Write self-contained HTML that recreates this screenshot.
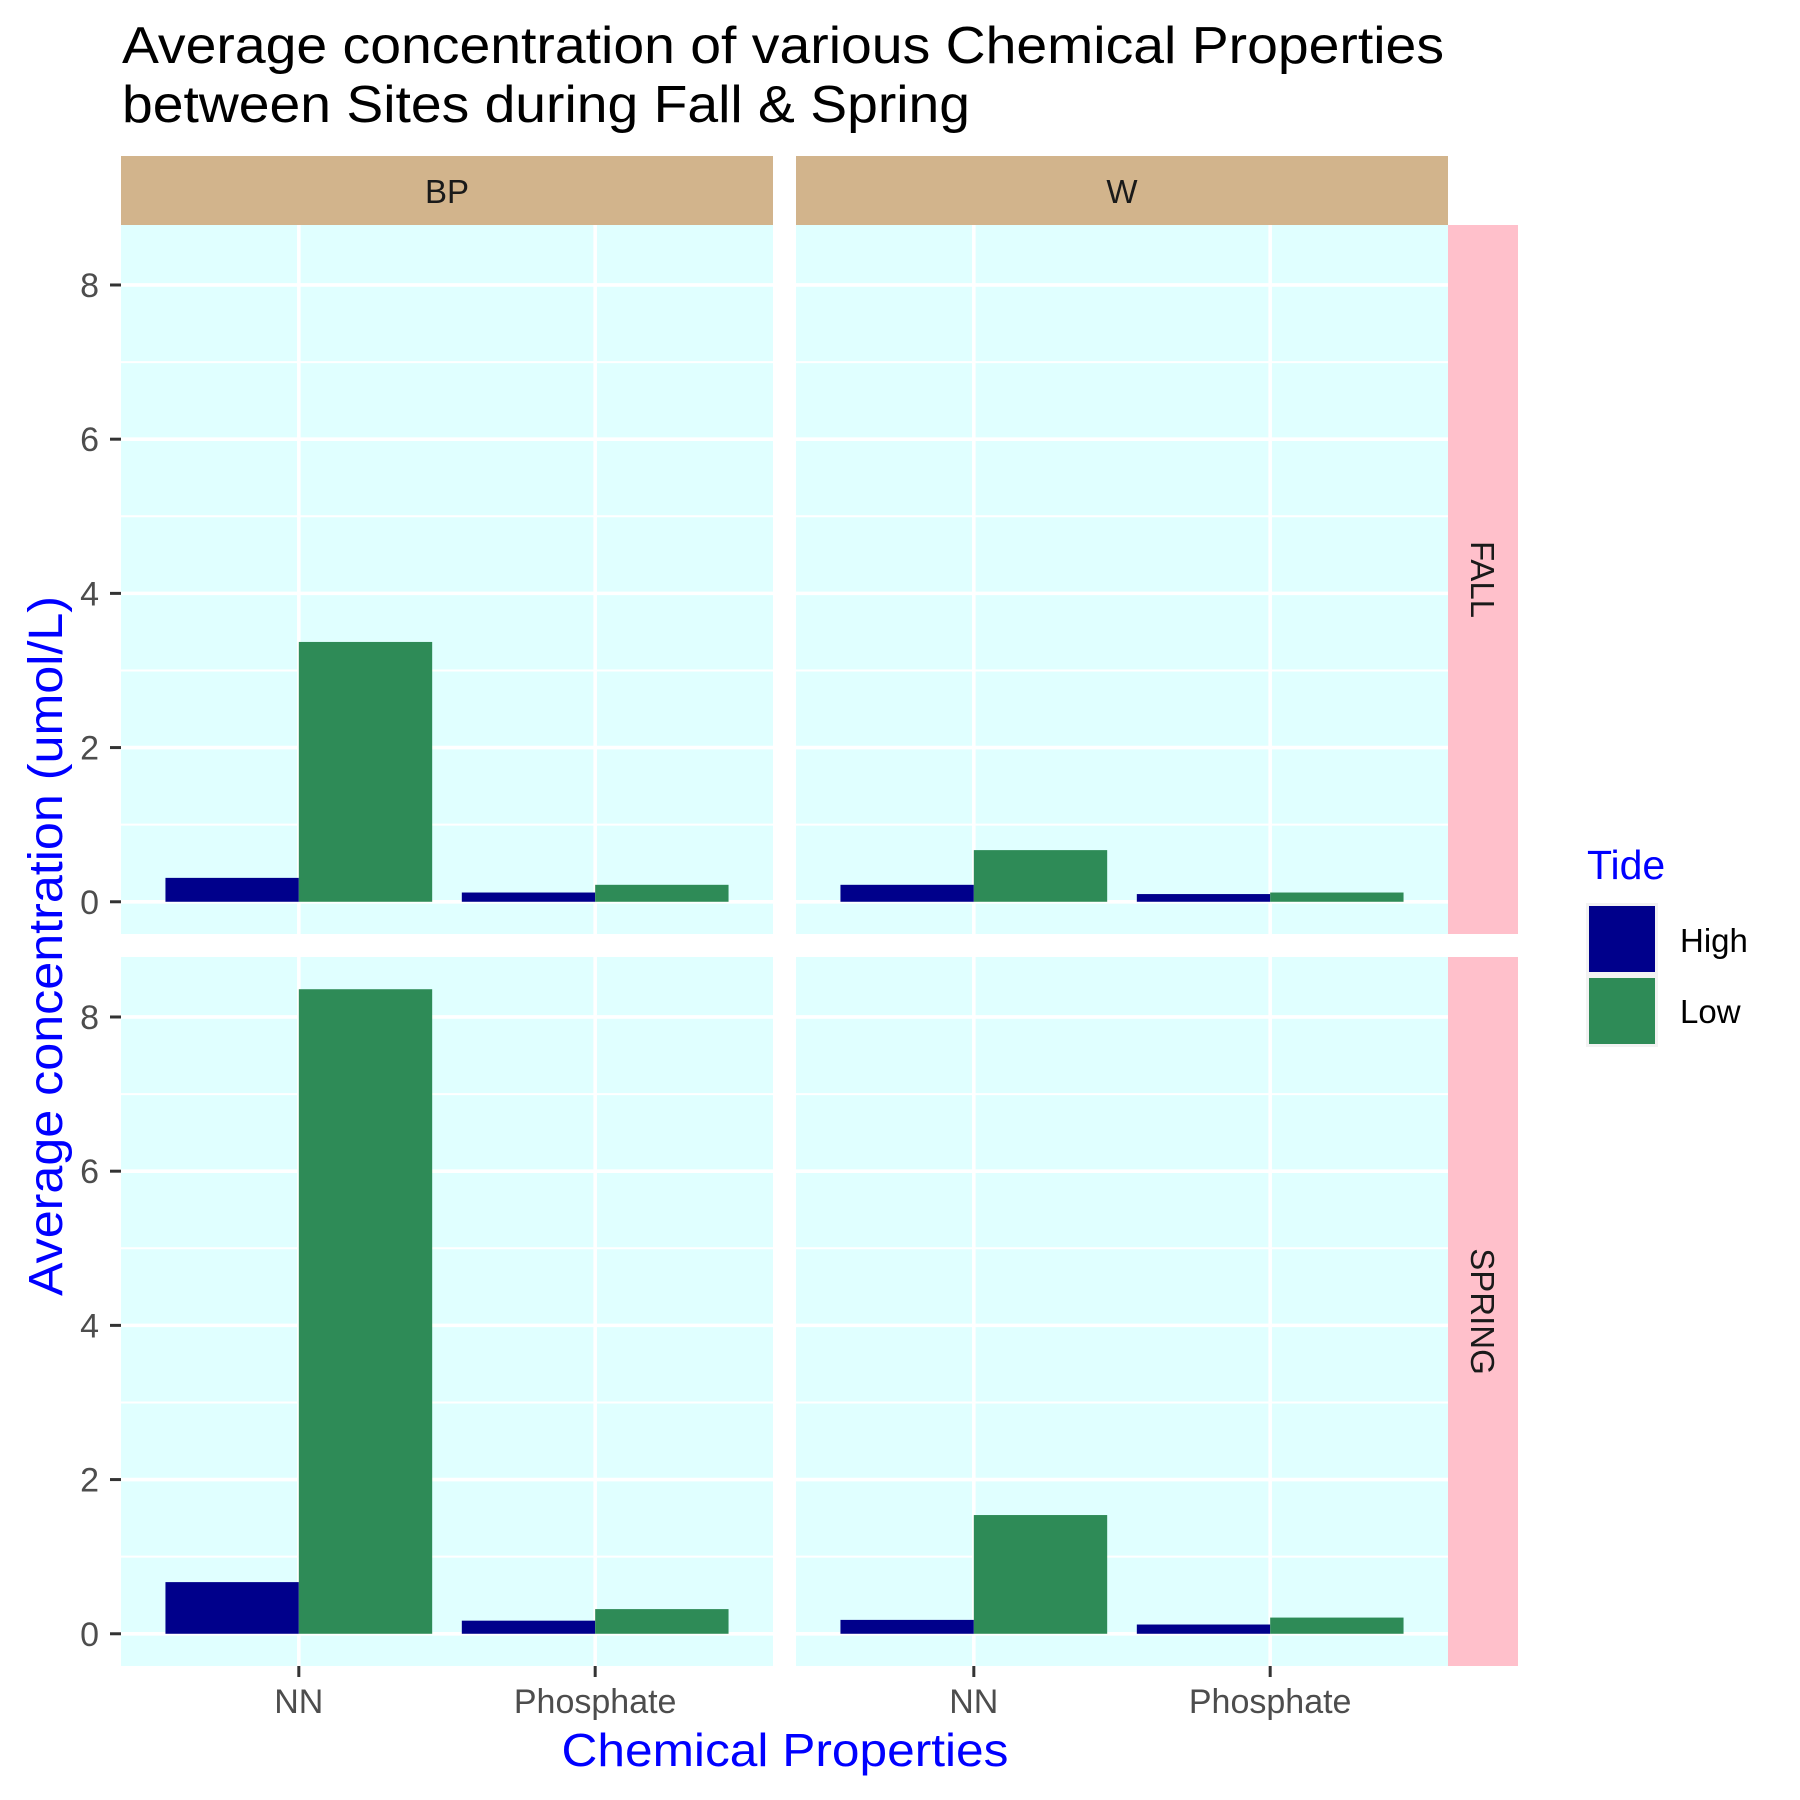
<!DOCTYPE html>
<html><head><meta charset="utf-8"><style>
html,body{margin:0;padding:0;background:#fff;}
svg{display:block;font-family:"Liberation Sans",Arial,sans-serif;}
</style></head><body>
<svg id="chart" width="1800" height="1800" viewBox="0 0 1800 1800" xmlns="http://www.w3.org/2000/svg">
<text x="122" y="63" font-size="52" fill="#000" textLength="1322" lengthAdjust="spacingAndGlyphs">Average concentration of various Chemical Properties</text>
<text x="122" y="122" font-size="52" fill="#000" textLength="848" lengthAdjust="spacingAndGlyphs">between Sites during Fall &amp; Spring</text>
<g id="panels"></g>
<text x="785" y="1766" font-size="46" fill="#0000ff" text-anchor="middle" textLength="447" lengthAdjust="spacingAndGlyphs">Chemical Properties</text>
<text transform="translate(62,946) rotate(-90)" font-size="48" fill="#0000ff" text-anchor="middle" textLength="700" lengthAdjust="spacingAndGlyphs">Average concentration (umol/L)</text>
<g>
<text x="1587" y="879" font-size="41" fill="#0000ff">Tide</text>
<rect x="1586" y="903" width="72" height="144" fill="#f2f2f2"/>
<rect x="1589" y="906" width="66" height="66" fill="#00008b"/>
<rect x="1589" y="978" width="66" height="66" fill="#2e8b57"/>
<text x="1680" y="952" font-size="33" fill="#000">High</text>
<text x="1680" y="1023" font-size="33" fill="#000">Low</text>
</g>
</svg>
<script>
const sites = ["BP", "W"];
const seasons = ["FALL", "SPRING"];
const categories = ["NN", "Phosphate"];
const tides = ["High", "Low"];
// values per [season][site] -> [NN, Phosphate]
const fallBPHigh = [0.31, 0.12];
const fallBPLow = [3.37, 0.22];
const fallWHigh = [0.22, 0.10];
const fallWLow = [0.67, 0.12];
const springBPHigh = [0.67, 0.17];
const springBPLow = [8.36, 0.32];
const springWHigh = [0.18, 0.12];
const springWLow = [1.54, 0.21];
const yTicks = [0, 2, 4, 6, 8];
const yMinor = [1, 3, 5, 7];

const series = {
  FALL: {BP: {High: fallBPHigh, Low: fallBPLow}, W: {High: fallWHigh, Low: fallWLow}},
  SPRING: {BP: {High: springBPHigh, Low: springBPLow}, W: {High: springWHigh, Low: springWLow}}
};
const colors = {High: "#00008b", Low: "#2e8b57"};
const NS = "http://www.w3.org/2000/svg";
const g = document.getElementById("panels");
const panelX = [121, 796], panelW = 652;
const panelY = [225, 957], panelH = 709;
let maxV = 0;
for (const a of [fallBPHigh, fallBPLow, fallWHigh, fallWLow, springBPHigh, springBPLow, springWHigh, springWLow]) for (const v of a) maxV = Math.max(maxV, v);
const yLo = -0.05 * maxV, yHi = 1.05 * maxV;
function yScale(v, row) { return panelY[row] + panelH * (yHi - v) / (yHi - yLo); }
function xScale(i, col) { return panelX[col] + panelW * (i + 1 - 0.4) / 2.2; }
const unit = panelW / 2.2;
function mk(tag, attrs) { const e = document.createElementNS(NS, tag); for (const k in attrs) e.setAttribute(k, attrs[k]); g.appendChild(e); return e; }

sites.forEach((site, c) => {
  const strip = mk("rect", {x: panelX[c], y: 156, width: panelW, height: 69, fill: "#d2b48c"});
  
  
  const st = mk("text", {x: panelX[c] + panelW / 2, y: 203, "font-size": 33, fill: "#1a1a1a", "text-anchor": "middle"});
  st.textContent = site;
  
  
});
seasons.forEach((season, r) => {
  const strip = mk("rect", {x: 1448, y: panelY[r], width: 70, height: panelH, fill: "#ffc0cb"});
  
  
  const cy = panelY[r] + panelH / 2;
  const st = mk("text", {x: 0, y: 0, "font-size": 33, fill: "#1a1a1a", "text-anchor": "middle", transform: "translate(1471," + cy + ") rotate(90)"});
  st.textContent = season;
  
  
});

seasons.forEach((season, r) => {
  sites.forEach((site, c) => {
    const bg = mk("rect", {x: panelX[c], y: panelY[r], width: panelW, height: panelH, fill: "#e0ffff"});
    
    
    yMinor.forEach(t => {
      const y = yScale(t, r);
      const l = mk("line", {x1: panelX[c], x2: panelX[c] + panelW, y1: y, y2: y, stroke: "#fff", "stroke-width": 2});
      
      
    });
    yTicks.forEach(t => {
      const y = yScale(t, r);
      const l = mk("line", {x1: panelX[c], x2: panelX[c] + panelW, y1: y, y2: y, stroke: "#fff", "stroke-width": 3.6});
      
      
    });
    categories.forEach((cat, i) => {
      const x = xScale(i, c);
      const l = mk("line", {x1: x, x2: x, y1: panelY[r], y2: panelY[r] + panelH, stroke: "#fff", "stroke-width": 3.6});
      
      
    });
    categories.forEach((cat, i) => {
      tides.forEach((tide, k) => {
        const v = series[season][site][tide][i];
        const x0 = xScale(i, c) - 0.45 * unit + k * 0.45 * unit;
        const y0 = yScale(0, r), y1 = yScale(v, r);
        const b = mk("rect", {x: x0, y: Math.min(y0, y1), width: 0.45 * unit, height: Math.abs(y0 - y1), fill: colors[tide]});
        
        
      });
    });
  });
  yTicks.forEach(t => {
    const y = yScale(t, r);
    const tk = mk("line", {x1: 110, x2: 121, y1: y, y2: y, stroke: "#333", "stroke-width": 3});
    
    
    const lb = mk("text", {x: 99, y: y + 12, "font-size": 34, fill: "#4d4d4d", "text-anchor": "end"});
    lb.textContent = t;
    
    
  });
});
sites.forEach((site, c) => {
  categories.forEach((cat, i) => {
    const x = xScale(i, c);
    const tk = mk("line", {x1: x, x2: x, y1: 1666, y2: 1677, stroke: "#333", "stroke-width": 3});
    
    
    const lb = mk("text", {x: x, y: 1713, "font-size": 34, fill: "#4d4d4d", "text-anchor": "middle"});
    lb.textContent = cat;
    
    
  });
});
</script>
</body></html>
